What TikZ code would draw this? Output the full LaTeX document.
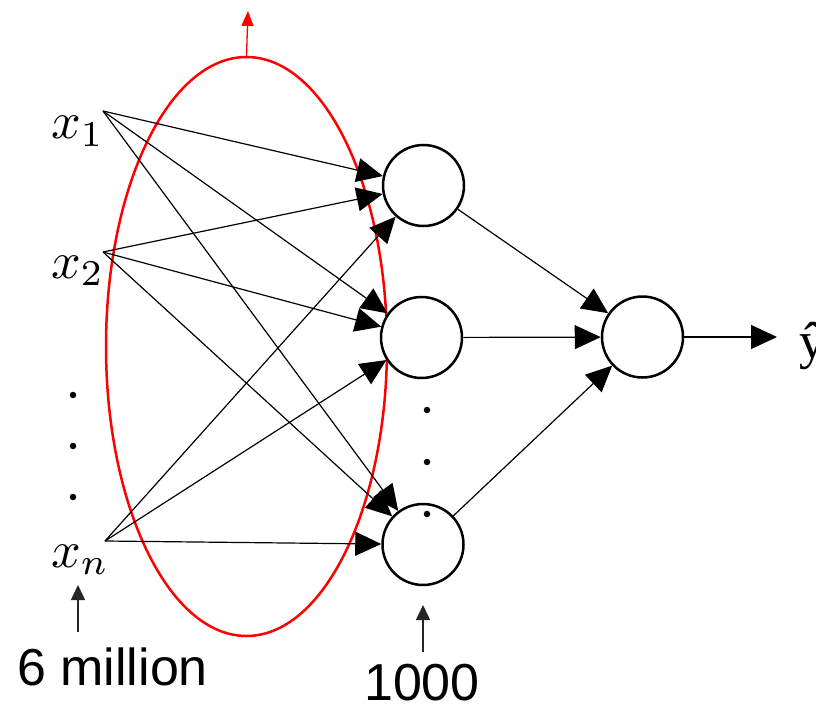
\documentclass[tikz,border=0pt]{standalone}
\usepackage{fontspec}
\usepackage{graphicx}
\setmainfont{Liberation Sans}
\newfontfamily\serifx{Liberation Serif}
\usetikzlibrary{arrows.meta,shapes.geometric}
\tikzset{
  neuron/.style={circle, draw=black, line width=2.5pt, minimum size=81pt, inner sep=0pt, fill=white},
  conn/.style={draw=black, line width=1.2pt, -{Triangle[length=26pt,width=24pt]}},
  small arr/.style={draw=black!85, line width=1.5pt, -{Triangle[length=15pt,width=14pt]}},
  inlabel/.style={anchor=base west, inner sep=0pt},
  bigtext/.style={anchor=base, inner sep=0pt, font=\fontsize{52}{60}\selectfont},
  dotmark/.style={fill=black, circle, inner sep=0pt, minimum size=6.5pt},
  selection/.style={ellipse, draw=red, line width=2.5pt, minimum width=281pt, minimum height=579pt, inner sep=0pt}
}
\begin{document}
\begin{tikzpicture}[x=1pt,y=-1pt]
\useasboundingbox (0,0) rectangle (816,706);

% selection ellipse
\node[selection] (sel) at (246.5,346.5) {};
\coordinate (redtip) at (248,11);
\draw[red, line width=1.3pt, -{Triangle[length=15pt,width=12pt]}] (sel.north) -- (redtip);

% inputs
\coordinate (i1) at (103,111);
\coordinate (i2) at (103,252);
\coordinate (in) at (105,541);
\node[inlabel] (lx1) at (51,139) {\scalebox{5.2}{$x_1$}};
\node[inlabel] (lx2) at (51,278) {\scalebox{5.2}{$x_2$}};
\node[inlabel] (lxn) at (51,567) {\scalebox{5.2}{$x_n$}};
\node[dotmark] (d1) at (73,395) {};
\node[dotmark] (d2) at (73,446) {};
\node[dotmark] (d3) at (73,497) {};

% hidden layer
\node[neuron] (h1) at (423.5,185.5) {};
\node[neuron] (h2) at (421.5,337.5) {};
\node[neuron] (h3) at (423,544.5) {};
\node[dotmark] (e1) at (427,410) {};
\node[dotmark] (e2) at (427,462) {};
\node[dotmark] (e3) at (427,514) {};

% output
\node[neuron] (out) at (642.5,337) {};
\coordinate (yend) at (777,337);
\node[anchor=base west, inner sep=0pt, font=\serifx\fontsize{52}{60}\selectfont] (yh) at (799,358) {ŷ};

% connections input -> hidden
\foreach \s in {i1,i2,in}{
  \foreach \t in {h1,h2,h3}{
    \draw[conn] (\s) -- (\t);
  }
}
% hidden -> output
\foreach \t in {h1,h2,h3}{
  \draw[conn] (\t) -- (out);
}
\draw[conn] (out) -- (yend);

% annotations
\coordinate (a1s) at (78,632);
\coordinate (a1e) at (78,585);
\draw[small arr] (a1s) -- (a1e);
\node[bigtext, anchor=base west] (six) at (17,685) {6 million};

\coordinate (a2s) at (423,652);
\coordinate (a2e) at (423,605);
\draw[small arr] (a2s) -- (a2e);
\node[bigtext] (thou) at (422,700) {1000};
\end{tikzpicture}
\end{document}
